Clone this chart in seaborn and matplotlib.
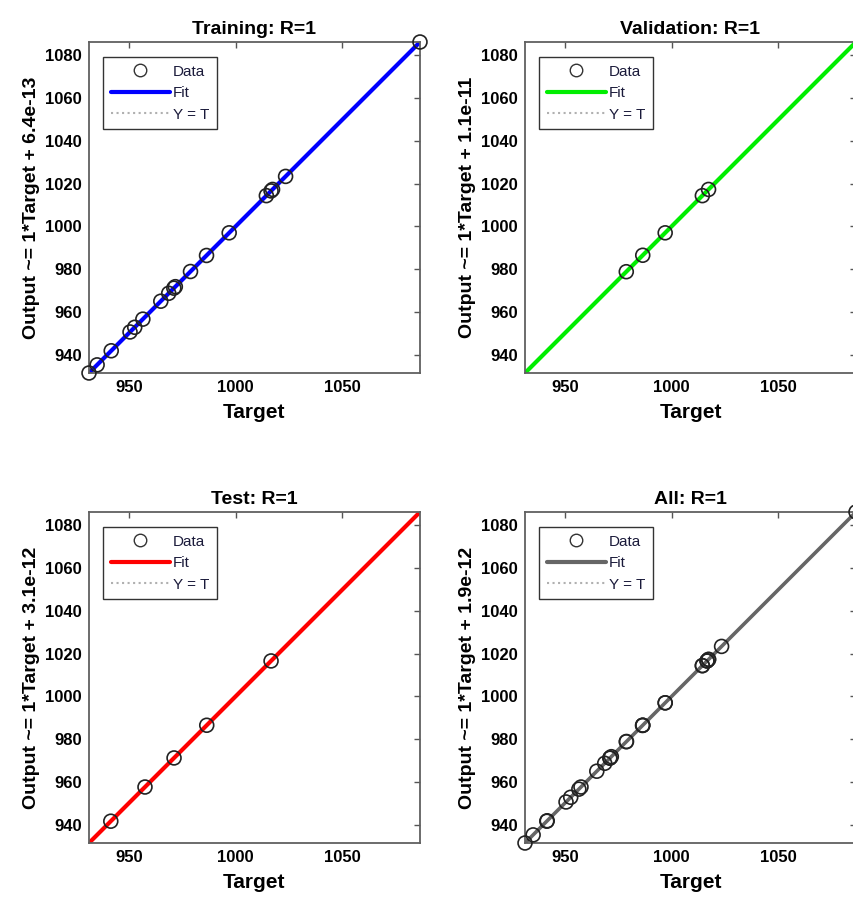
import matplotlib
matplotlib.use('Agg')
import matplotlib.pyplot as plt
import seaborn as sns
import pandas as pd
import numpy as np
from matplotlib.lines import Line2D

sns.set_style('white')
plt.rcParams['font.family'] = ['Liberation Sans', 'DejaVu Sans']
plt.rcParams['text.color'] = 'black'
plt.rcParams['axes.labelcolor'] = 'black'
plt.rcParams['xtick.color'] = 'black'
plt.rcParams['ytick.color'] = 'black'

# Targets for each subset (outputs equal targets, R=1)
train_t = [931.4, 935.2, 941.8, 950.6, 952.8, 956.6, 965.0, 968.7, 971.1, 971.8,
           978.9, 986.4, 997.0, 1014.4, 1016.6, 1017.3, 1023.4, 1086.3]
val_t = [978.8, 986.5, 997.0, 1014.4, 1017.3]
test_t = [941.6, 957.6, 971.2, 986.5, 1016.6]
all_t = sorted(train_t + val_t + test_t)

titles = ['Training: R=1', 'Validation: R=1', 'Test: R=1', 'All: R=1']
intercepts = ['6.4e-13', '1.1e-11', '3.1e-12', '1.9e-12']
fit_colors = ['#0000ff', '#00ee00', '#ff0000', '#666666']
subsets = [train_t, val_t, test_t, all_t]

lo, hi = min(all_t), max(all_t)

fig = plt.figure(figsize=(8.54, 9.01), dpi=100)
W, H = 854, 901
boxes = [(89, 42), (525, 42), (89, 512), (525, 512)]
size = 331

for i in range(4):
    x0, y0 = boxes[i]
    ax = fig.add_axes([x0 / W, (H - y0 - size) / H, size / W, size / H])
    df = pd.DataFrame({'Target': subsets[i], 'Output': subsets[i]})
    line_df = pd.DataFrame({'Target': [lo, hi], 'Output': [lo, hi]})

    # Y = T reference (dotted grey)
    sns.lineplot(data=line_df, x='Target', y='Output', ax=ax, color='#b0b0b0',
                 linestyle=':', linewidth=1.2, zorder=1)
    # fit line
    sns.lineplot(data=line_df, x='Target', y='Output', ax=ax, color=fit_colors[i],
                 linewidth=3 if i < 3 else 2.6, zorder=2)
    # data circles
    sns.scatterplot(data=df, x='Target', y='Output', ax=ax, s=100,
                    facecolors='none', edgecolor='#222222', linewidth=1.2,
                    marker='o', zorder=3, clip_on=False)

    ax.set_xlim(lo, hi)
    ax.set_ylim(lo, hi)
    ax.set_xticks([950, 1000, 1050])
    ax.set_yticks(np.arange(940, 1081, 20))
    ax.tick_params(direction='in', length=4, width=1, color='#555555',
                   top=True, right=True, labelsize=12, pad=5)
    for lab in ax.get_xticklabels() + ax.get_yticklabels():
        lab.set_fontweight('bold')
    for sp in ax.spines.values():
        sp.set_color('#606060')
        sp.set_linewidth(1.3)

    ax.set_title(titles[i], fontsize=14, fontweight='bold', pad=6)
    ax.set_xlabel('Target', fontsize=15, fontweight='bold', labelpad=6)
    ax.set_ylabel('Output ~= 1*Target + ' + intercepts[i], fontsize=14,
                  fontweight='bold', labelpad=4)

    handles = [
        Line2D([0], [0], marker='o', linestyle='none', markerfacecolor='none',
               markeredgecolor='#333333', markersize=9, label='Data'),
        Line2D([0], [0], color=fit_colors[i], linewidth=3, label='Fit'),
        Line2D([0], [0], color='#b0b0b0', linestyle=':', linewidth=1.5, label='Y = T'),
    ]
    leg = ax.legend(handles=handles, loc='upper left', bbox_to_anchor=(0.042, 0.955),
                    fontsize=11, frameon=True, fancybox=False, framealpha=1,
                    edgecolor='#333333', handlelength=3.9, handletextpad=0.2,
                    borderpad=0.5, labelspacing=0.5, borderaxespad=0)
    leg.get_frame().set_linewidth(1.0)
    for t in leg.get_texts():
        t.set_color('#1a1a3a')

fig.savefig('out.png', dpi=100)
